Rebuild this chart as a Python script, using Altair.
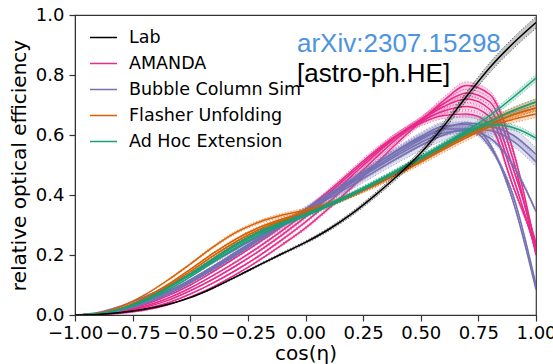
import altair as alt
import pandas as pd

# ---------------- data ----------------
COS = [-1.0, -0.9, -0.8, -0.7, -0.6, -0.5, -0.4, -0.3, -0.2, -0.1, 0.0,
       0.1, 0.2, 0.3, 0.4, 0.5, 0.6, 0.7, 0.8, 0.9, 1.0]

FAMILIES = ["Lab", "AMANDA", "Bubble Column Sim", "Flasher Unfolding", "Ad Hoc Extension"]
COLORS = ["#000000", "#e7298a", "#7570b3", "#d95f02", "#1b9e77"]

LAB = [[0.0, 0.002, 0.008, 0.019, 0.035, 0.058, 0.09, 0.128, 0.167, 0.205, 0.242,
        0.285, 0.337, 0.398, 0.465, 0.54, 0.63, 0.73, 0.825, 0.905, 0.975]]
LAB_BAND = [0.02]

AMANDA = [
    [0, .001, .006, .016, .033, .060, .094, .136, .183, .235, .290, .355, .425, .500, .575, .645, .715, .765, .735, .55, .22],
    [0, .002, .008, .020, .040, .070, .107, .150, .198, .252, .310, .375, .447, .520, .590, .650, .705, .740, .710, .52, .20],
    [0, .002, .010, .025, .048, .081, .120, .165, .214, .268, .327, .393, .463, .533, .598, .650, .695, .720, .685, .49, .24],
    [0, .003, .012, .029, .055, .090, .132, .178, .228, .282, .340, .405, .473, .540, .600, .645, .680, .695, .660, .46, .21],
    [0, .003, .014, .034, .063, .100, .145, .193, .243, .296, .350, .413, .480, .545, .600, .640, .665, .670, .635, .43, .23],
]
AMANDA_BAND = [0.016, 0.016, 0.016, 0.016, 0.016]

BUBBLE = [
    [0, .004, .018, .042, .075, .115, .160, .208, .257, .305, .352, .400, .450, .500, .550, .595, .630, .635, .570, .38, .085],
    [0, .003, .015, .037, .068, .107, .152, .200, .250, .300, .350, .400, .450, .500, .548, .590, .620, .620, .560, .40, .10],
    [0, .004, .020, .045, .078, .118, .163, .210, .258, .305, .350, .395, .440, .487, .533, .575, .607, .615, .590, .50, .345],
    [0, .008, .030, .060, .095, .135, .177, .220, .263, .304, .345, .388, .432, .478, .523, .565, .600, .620, .615, .580, .51],
    [0, .003, .016, .038, .070, .110, .155, .203, .252, .300, .348, .395, .443, .492, .540, .585, .622, .640, .630, .60, .535],
]
BUBBLE_BAND = [0.015, 0.015, 0.015, 0.03, 0.04]

FLASHER = [
    [0, .006, .028, .066, .115, .170, .227, .276, .310, .333, .350, .372, .400, .432, .470, .510, .552, .592, .628, .652, .670],
    [0, .005, .023, .056, .100, .152, .206, .254, .292, .320, .342, .368, .398, .433, .472, .514, .557, .599, .637, .667, .690],
    [0, .004, .019, .048, .088, .137, .188, .237, .278, .312, .337, .365, .398, .436, .477, .520, .564, .607, .647, .682, .710],
    [0, .005, .022, .053, .095, .145, .197, .245, .285, .316, .340, .367, .400, .438, .478, .519, .560, .599, .634, .667, .690],
]
FLASHER_BAND = [0.018, 0.015, 0.015, 0.015]

ADHOC = [
    [0, .003, .018, .045, .082, .127, .176, .225, .267, .300, .330, .363, .400, .440, .482, .525, .570, .615, .665, .725, .790],
    [0, .004, .020, .049, .088, .134, .183, .232, .273, .305, .334, .366, .402, .440, .480, .522, .565, .607, .645, .680, .710],
    [0, .004, .021, .051, .091, .138, .188, .237, .278, .309, .337, .370, .405, .443, .483, .525, .568, .610, .635, .625, .590],
]
ADHOC_BAND = [0.015, 0.015, 0.015]

X_TICKS = [-1.0, -0.75, -0.5, -0.25, 0.0, 0.25, 0.5, 0.75, 1.0]
Y_TICKS = [0.0, 0.2, 0.4, 0.6, 0.8, 1.0]
NOTE_1 = "arXiv:2307.15298"
NOTE_2 = "[astro-ph.HE]"

# ---------------- build long table ----------------
SETS = {
    "Lab": (LAB, LAB_BAND),
    "AMANDA": (AMANDA, AMANDA_BAND),
    "Bubble Column Sim": (BUBBLE, BUBBLE_BAND),
    "Flasher Unfolding": (FLASHER, FLASHER_BAND),
    "Ad Hoc Extension": (ADHOC, ADHOC_BAND),
}
COLOR_OF = dict(zip(FAMILIES, COLORS))
rows = []
for fam, (curves, bands) in SETS.items():
    for j, (vals, r) in enumerate(zip(curves, bands)):
        for x, y in zip(COS, vals):
            rows.append({"fam": fam, "col": COLOR_OF[fam], "cid": f"{fam}-{j}", "x": x, "y": y,
                         "lo": y * (1 - r), "hi": y * (1 + r)})
df = pd.DataFrame(rows)

FONT = "DejaVu Sans"
xs = alt.Scale(domain=[-1, 1], nice=False)
ys = alt.Scale(domain=[0, 1], nice=False)

x_enc = alt.X("x:Q", scale=xs,
              axis=alt.Axis(values=X_TICKS, format=".2f", title="cos(η)",
                            labelFlush=False, labelOverlap=False, labelPadding=3,
                            titlePadding=1))
y_axis = alt.Axis(values=Y_TICKS, format=".1f", title="relative optical efficiency",
                  labelPadding=5, titlePadding=6, labelOverlap=False)

legend = alt.Legend(title=None, orient="none", legendX=14, legendY=8,
                    symbolType="stroke", symbolSize=729, symbolStrokeWidth=1.5,
                    labelFont=FONT, labelFontSize=17.5, labelOffset=11,
                    rowPadding=3, padding=0, labelLimit=400)

layers = []
draw_order = ["AMANDA", "Bubble Column Sim", "Flasher Unfolding", "Ad Hoc Extension", "Lab"]
for fam in draw_order:
    base = alt.Chart(df).transform_filter(alt.datum.fam == fam)
    band = base.mark_area(interpolate="monotone", opacity=0.22, clip=True).encode(
        x=x_enc,
        y=alt.Y("lo:Q", scale=ys, axis=y_axis), y2="hi:Q",
        fill=alt.Fill("col:N", scale=None),
        detail="cid:N")
    lo = base.mark_line(interpolate="monotone", strokeDash=[1.2, 1.8], strokeWidth=1.0,
                        opacity=0.6, clip=True).encode(
        x=x_enc, y=alt.Y("lo:Q", scale=ys),
        stroke=alt.Stroke("col:N", scale=None), detail="cid:N")
    hi = base.mark_line(interpolate="monotone", strokeDash=[1.2, 1.8], strokeWidth=1.0,
                        opacity=0.6, clip=True).encode(
        x=x_enc, y=alt.Y("hi:Q", scale=ys),
        stroke=alt.Stroke("col:N", scale=None), detail="cid:N")
    main = base.mark_line(interpolate="monotone", strokeWidth=1.5, clip=True).encode(
        x=x_enc, y=alt.Y("y:Q", scale=ys),
        color=alt.Color("fam:N", scale=alt.Scale(domain=FAMILIES, range=COLORS), legend=legend),
        detail="cid:N")
    layers += [band, lo, hi, main]

note_df = pd.DataFrame({"t": [NOTE_1, NOTE_2]})
note1 = alt.Chart(note_df).transform_filter(alt.datum.t == NOTE_1).mark_text(
    align="left", baseline="alphabetic", font="Liberation Sans", fontSize=26,
    color="#4d94e0").encode(text="t:N", x=alt.value(222), y=alt.value(37))
note2 = alt.Chart(note_df).transform_filter(alt.datum.t == NOTE_2).mark_text(
    align="left", baseline="alphabetic", font="Liberation Sans", fontSize=26,
    color="#000000").encode(text="t:N", x=alt.value(222), y=alt.value(67))

chart = alt.layer(*layers, note1, note2).properties(
    width=461, height=300,
    autosize=alt.AutoSizeParams(type="none"),
    padding={"left": 75, "top": 15, "right": 17, "bottom": 49},
).configure_view(stroke="#333333", strokeWidth=1.2).configure_axis(
    domainColor="#333333", tickColor="#333333", tickSize=6, tickWidth=1.2,
    labelFont=FONT, labelFontSize=18, labelColor="#000000",
    titleFont=FONT, titleFontSize=20, titleFontWeight="normal", titleColor="#000000",
    grid=False,
)

chart.save("out.html", embed_options={"renderer": "svg", "actions": False})
